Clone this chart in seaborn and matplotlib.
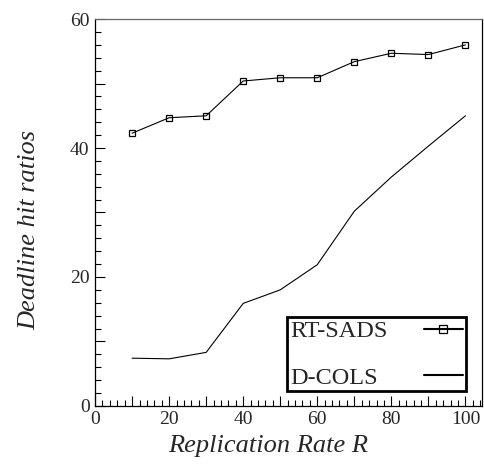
"""
Deadline hit ratios vs replication rate for RT-SADS and D-COLS.
"""
import numpy as np
import pandas as pd
import matplotlib
matplotlib.use('Agg')
import matplotlib.pyplot as plt
from matplotlib.ticker import MultipleLocator, FuncFormatter
import seaborn as sns

# data
replication_rate = [10, 20, 30, 40, 50, 60, 70, 80, 90, 100]
rt_sads = [42.3, 44.7, 45.0, 50.4, 50.9, 50.9, 53.4, 54.7, 54.5, 56.0]
d_cols = [7.4, 7.3, 8.3, 15.9, 18.0, 21.9, 30.2, 35.5, 40.3, 45.0]

sns.set_style('white')
plt.rcParams['font.family'] = ['Liberation Serif', 'DejaVu Serif']

fig = plt.figure(figsize=(4.85, 4.66), dpi=100)
ax = fig.add_axes([0.196, 0.129, 0.798, 0.830])

sns.lineplot(x=replication_rate, y=rt_sads, ax=ax, color='black', lw=0.8,
             marker='s', markersize=4.5, markerfacecolor='none',
             markeredgecolor='black', markeredgewidth=0.9, label='RT-SADS')
sns.lineplot(x=replication_rate, y=d_cols, ax=ax, color='black', lw=0.8,
             label='D-COLS')

# label every other major tick
every20 = FuncFormatter(lambda v, pos: f'{v:.0f}' if round(v) % 20 == 0 else '')

ax.set_xlim(0, 104.5)
ax.set_ylim(0, 60)
ax.xaxis.set_major_locator(MultipleLocator(10))
ax.xaxis.set_minor_locator(MultipleLocator(2))
ax.yaxis.set_major_locator(MultipleLocator(10))
ax.yaxis.set_minor_locator(MultipleLocator(2))
ax.xaxis.set_major_formatter(every20)
ax.yaxis.set_major_formatter(every20)
ax.tick_params(which='both', direction='in', left=True, bottom=True,
               top=False, right=False, labelsize=14, color='black', width=0.8)
ax.tick_params(which='major', length=7, pad=4)
ax.tick_params(which='minor', length=4)
for s in ax.spines.values():
    s.set_color('black')
    s.set_linewidth(0.9)
ax.spines['top'].set_color('#666666')

ax.set_xlabel('Replication Rate R', fontsize=19, style='italic')
ax.set_ylabel('Deadline hit ratios', fontsize=19, style='italic')
ax.xaxis.set_label_coords(0.447, -0.075)
ax.yaxis.set_label_coords(-0.142, 0.454)

leg = ax.legend(loc='upper left', bbox_to_anchor=(0.496, 0.229), markerfirst=False,
                fontsize=17.5, frameon=True, fancybox=False, framealpha=1,
                edgecolor='black', handlelength=1.6, labelspacing=1.0,
                borderpad=0.12, handletextpad=1.5, borderaxespad=0)
leg.get_frame().set_linewidth(2)
for h in leg.legend_handles:
    h.set_linewidth(1.5)
    h.set_markersize(6)

# labels are right-aligned when markerfirst=False; push the shorter one left
fig.canvas.draw()
texts = leg.get_texts()
widths = [t.get_window_extent().width for t in texts]
for t, w in zip(texts, widths):
    t.set_x(w - max(widths))

fig.savefig('out.png', dpi=100)
